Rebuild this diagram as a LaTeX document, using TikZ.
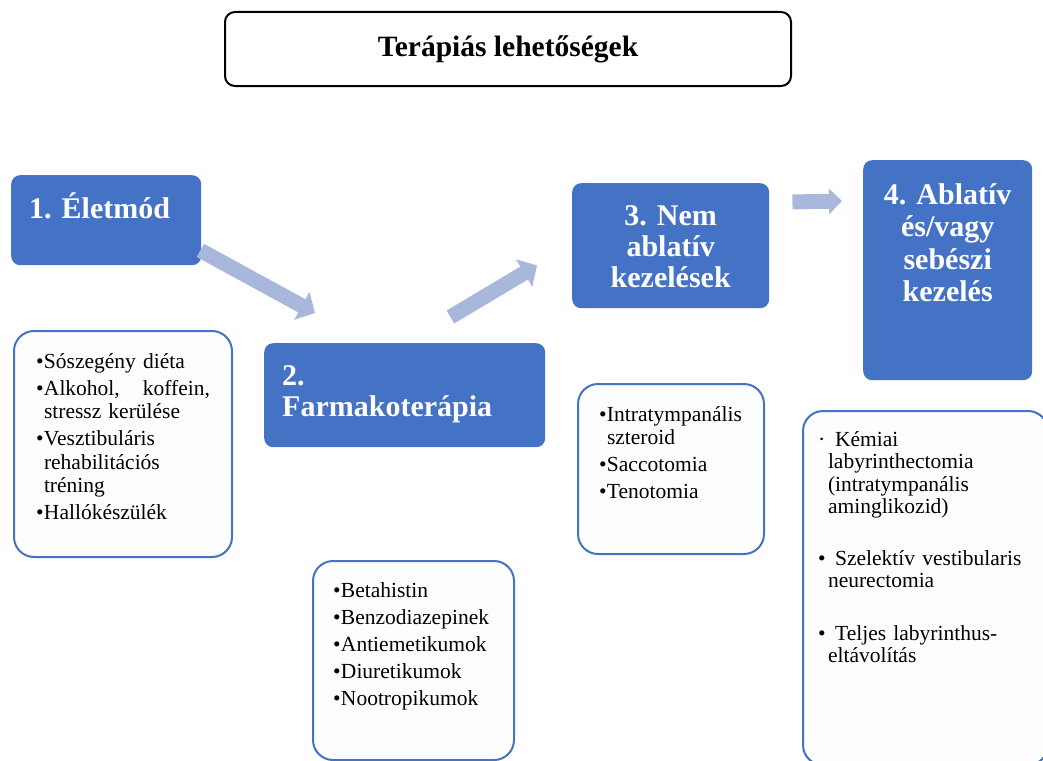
\documentclass[tikz,border=0pt]{standalone}
\usepackage{fontspec}
\setmainfont{Liberation Serif}
\usetikzlibrary{arrows.meta}

\definecolor{boxblue}{RGB}{68,114,196}
\definecolor{arrowblue}{RGB}{169,183,220}
\definecolor{paper}{RGB}{253,253,253}

% bullet hanging into the left margin of a list
\newlength\itmhang
\setlength\itmhang{8pt}
\newcommand\itm[1][\textbullet]{\leavevmode\llap{\makebox[\itmhang][l]{#1}}}

\tikzset{
  stagebox/.style={fill=boxblue, text=white, rounded corners=9pt, anchor=north west,
    inner xsep=18pt, inner ysep=0pt, font=\fontsize{30}{31}\selectfont\bfseries},
  listbox/.style={draw=boxblue, line width=2pt, fill=paper, rounded corners=20pt,
    anchor=north west, inner ysep=0pt, align=left, font=\fontsize{21.5}{23.5}\selectfont},
  flowarrow/.style={draw=arrowblue, line width=15pt, -{Triangle[length=15pt,width=31pt]}},
}

\begin{document}
\frenchspacing
\begin{tikzpicture}[x=1pt,y=-1pt]
  \useasboundingbox (0,0) rectangle (1043,760);
  \clip (0,0) rectangle (1043,760);

  \node[draw, line width=2pt, rounded corners=10pt, minimum width=566pt, minimum height=74pt,
    font=\fontsize{29.5}{32}\selectfont\bfseries] (title) at (508,49) {Terápiás lehetőségek};

  % stages
  \node[stagebox, text width=154pt, align=left, text height=43pt, text depth=47pt]
    (life) at (11,175) {1. Életmód};
  \node[stagebox, text width=245pt, align=left, text height=42pt, text depth=62pt]
    (pharma) at (264,343) {2.\\ Farmakoterápia};
  \node[stagebox, text width=161pt, align=center, text height=42pt, text depth=83pt]
    (nonabl) at (572,183) {3. Nem\\ ablatív\\ kezelések};
  \node[stagebox, text width=151pt, inner xsep=9pt, align=center, text height=44pt, text depth=176pt,
    font=\fontsize{30}{32.5}\selectfont\bfseries]
    (surgery) at (863,160) {4. Ablatív\\ és/vagy\\ sebészi\\ kezelés};

  % lists
  \node[listbox, text width=174pt, inner xsep=22pt, text height=37pt, text depth=189pt]
    (lifelist) at (13,330) {\leftskip=\itmhang
      \itm Sószegény diéta\\[3.5pt]
      \itm Alkohol,\hfill koffein,\newline stressz kerülése\\[3.5pt]
      \itm Vesztibuláris\newline rehabilitációs\newline tréning\\[3.5pt]
      \itm Hallókészülék\par};
  \node[listbox, text width=161pt, inner xsep=20pt, text height=36pt, text depth=163pt]
    (pharmalist) at (312,560) {\leftskip=\itmhang
      \itm Betahistin\\[3.5pt]
      \itm Benzodiazepinek\\[3.5pt]
      \itm Antiemetikumok\\[3.5pt]
      \itm Diuretikumok\\[3.5pt]
      \itm Nootropikumok\par};
  \node[listbox, text width=144pt, inner xsep=21pt, text height=37pt, text depth=133pt]
    (nonabllist) at (577,383) {\leftskip=\itmhang
      \itm Intratympanális\newline szteroid\\[3.5pt]
      \itm Saccotomia\\[3.5pt]
      \itm Tenotomia\par};
  \node[listbox, text width=215pt, inner xsep=15pt, text height=35pt, text depth=319pt,
    font=\fontsize{21.5}{22.5}\selectfont]
    (surgerylist) at (802,410) {\setlength\itmhang{10pt}\leftskip=\itmhang
      \itm[·]\ Kémiai\newline labyrinthectomia\newline (intratympanális\newline aminglikozid)\\[29pt]
      \itm\ Szelektív vestibularis\newline neurectomia\\[30pt]
      \itm\ Teljes labyrinthus-\newline eltávolítás\par};

  % arrows
  \draw[flowarrow] ([shift={(-1,-15)}]life.south east) -- ([shift={(51,-30)}]pharma.north west);
  \draw[flowarrow] ([shift={(-95,-26)}]pharma.north east) -- ([shift={(-35,-43)}]nonabl.south west);
  \draw[flowarrow, -{Triangle[length=13pt,width=25pt]}] ([shift={(23,19)}]nonabl.north east)
    -- ([shift={(-21,41)}]surgery.north west);
\end{tikzpicture}
\end{document}
